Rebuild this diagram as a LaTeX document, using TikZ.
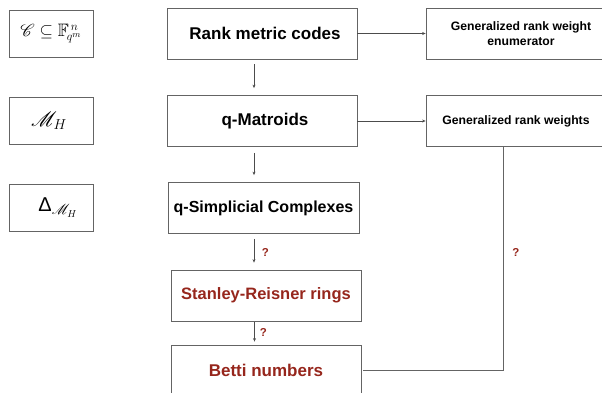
\documentclass[tikz,border=0pt]{standalone}
\usepackage{amssymb}
\usepackage{mathrsfs}
\usepackage{fontspec}
\setmainfont{Liberation Sans}
\usetikzlibrary{arrows.meta}
\definecolor{darkred}{RGB}{150,38,28}
\definecolor{linegray}{RGB}{100,100,100}
\tikzset{
  box/.style={draw=linegray, line width=0.8pt, inner sep=0pt, minimum height=51pt},
  lbox/.style={draw=linegray, line width=0.8pt, inner sep=0pt, minimum width=84pt, minimum height=47pt},
  big/.style={font=\fontsize{17}{20}\selectfont\bfseries},
  small/.style={font=\fontsize{12.2}{15}\selectfont\bfseries, align=center},
  redtxt/.style={text=darkred},
  qmark/.style={font=\fontsize{11.5}{13}\selectfont\bfseries, text=darkred},
  arr/.style={draw=black!70, line width=0.7pt, -{Stealth[length=3.5pt,width=3pt]}},
  conn/.style={draw=linegray, line width=0.8pt}
}
\begin{document}
\begin{tikzpicture}[x=1pt,y=-1pt]
\useasboundingbox (0,0) rectangle (602,393);
\clip (0,0) rectangle (602,393);
% left boxes
\node[lbox] (l1) at (51,33.5) {\fontsize{18}{21}\selectfont $\mathscr{C}\subseteq\mathbb{F}_{\!q^m}^{\,n}$};
\node[lbox] (l2) at (51,120.5) {\fontsize{22}{25}\selectfont\hspace*{-4pt}$\mathscr{M}_H$};
\node[lbox] (l3) at (51,207.5) {\fontsize{20}{23}\selectfont\hspace*{14pt}Δ$_{\mathscr{M}_H}$};
% middle boxes
\node[box, minimum width=190pt, big] (rank) at (262,33.5) {\hspace*{6pt}Rank metric codes};
\node[box, minimum width=190pt, big] (qmat) at (262,121) {\hspace*{6pt}q-Matroids};
\node[box, minimum width=191pt, big] (qsimp) at (263.5,208) {\fontsize{16}{19}\selectfont\bfseries q-Simplicial Complexes};
\node[box, minimum width=190pt, big, redtxt] (sr) at (266,295.5) {\fontsize{16.5}{19}\selectfont\bfseries Stanley-Reisner rings};
\node[box, minimum width=190pt, big, redtxt] (betti) at (266,370.5) {Betti numbers};
% right boxes
\node[box, minimum width=190pt, small] (enum) at (521,33.5) {Generalized rank weight\\enumerator};
\node[box, minimum width=180pt, small] (gw) at (516,121) {Generalized rank weights};
% vertical arrows
\coordinate (s1) at ([xshift=-8pt,yshift=-5pt]rank.south);
\coordinate (t1) at ([yshift=7pt]qmat.north);
\draw[arr] (s1) -- (s1 |- t1);
\coordinate (s2) at ([xshift=-8pt,yshift=-6pt]qmat.south);
\coordinate (t2) at ([yshift=7pt]qsimp.north);
\draw[arr] (s2) -- (s2 |- t2);
\coordinate (s3) at ([xshift=-9.5pt,yshift=-5pt]qsimp.south);
\coordinate (t3) at ([yshift=7pt]sr.north);
\draw[arr] (s3) -- (s3 |- t3);
\coordinate (s4) at ([xshift=-11.5pt,yshift=-1pt]sr.south);
\coordinate (t4) at ([yshift=3pt]betti.north);
\draw[arr] (s4) -- (s4 |- t4);
% horizontal arrows
\draw[arr] (rank.east) -- (enum.west);
\draw[arr] (qmat.east) -- (gw.west);
% Betti to weights
\coordinate (corner) at ([xshift=-13pt]gw.south);
\draw[conn] ([xshift=2pt]betti.east) -| (corner);
% question marks
\node[qmark] (q1) at (265.5,252) {?};
\node[qmark] (q2) at (263.5,332) {?};
\node[qmark] (q3) at (516,252) {?};
\end{tikzpicture}
\end{document}
